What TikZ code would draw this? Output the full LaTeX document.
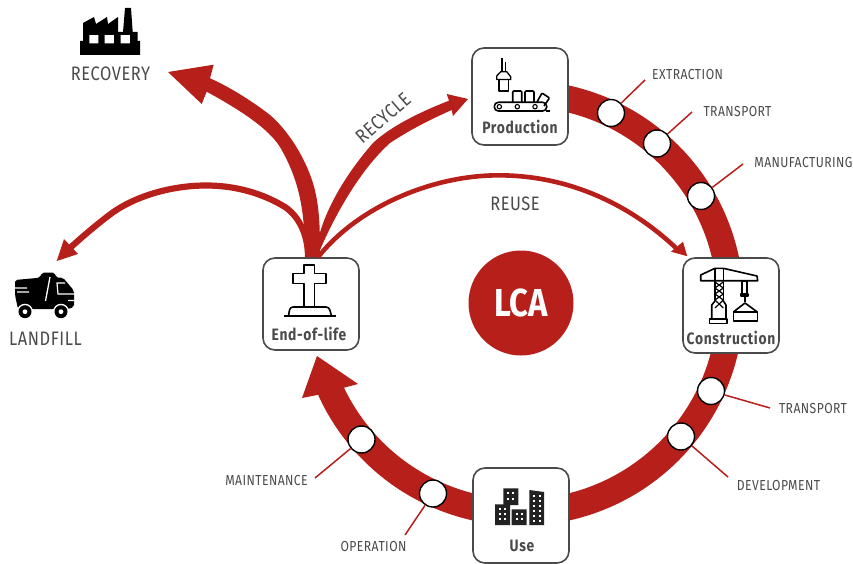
\documentclass[tikz,border=0pt]{standalone}
\usepackage{fontspec}
\setmainfont{Fira Sans}[FakeStretch=0.84]
\newfontfamily\labf{Fira Sans}[FakeStretch=0.84,LetterSpace=3]
\newfontfamily\stgf{Fira Sans}[FakeStretch=0.84,LetterSpace=4]
\definecolor{rd}{HTML}{B71F1A}
\definecolor{gr}{HTML}{4A4A4A}
\tikzset{
  x=1pt,y=-1pt,
  stage/.style={draw=gr,line width=1.6pt,fill=white,rounded corners=12pt,minimum width=96pt,inner sep=0pt},
  stagetext/.style={text=gr,font=\stgf\fontsize{16.5}{17}\bfseries\selectfont,inner sep=0pt},
  lab/.style={text=gr,font=\labf\fontsize{14.5}{16}\selectfont,inner sep=0pt},
  biglab/.style={text=gr,font=\labf\fontsize{19.5}{21}\selectfont,inner sep=0pt},
  dot/.style={circle,draw=black,line width=1.4pt,fill=white,minimum size=27pt,inner sep=0pt},
  leader/.style={draw=rd,line width=1.5pt},
  ic/.style={draw=black,line width=1.6pt,line join=round},
  thinarrow/.style={draw=rd,line width=4.6pt},
}
\begin{document}
\begin{tikzpicture}
\useasboundingbox (0,0) rectangle (853,564);
% ring
\draw[rd,line width=26.5pt] plot[domain=90:-155.5,samples=90,smooth] ({521+209.5*cos(\x)},{303-209.5*sin(\x)});
\fill[rd] (317,356) -- (358,384) -- (343,388) -- (325,395) -- (317,395) -- (302,398) -- cycle;
% centre
\node[circle,fill=rd,minimum size=105pt,inner sep=0pt,text=white,font=\fontsize{39}{40}\bfseries\selectfont] (lca) at (521,303) {LCA};
% stage boxes
\node[stage,minimum height=97pt] (prod) at (520,96.5) {};
\node[stage,minimum height=95pt] (cons) at (731,305.5) {};
\node[stage,minimum height=92pt] (eol) at (311,304) {};
\node[stage,minimum height=95pt] (use) at (521,515.5) {};
\node[stagetext] (prodt) at (520,127) {Production};
\node[stagetext] (const) at (731,337.5) {Construction};
\node[stagetext] (eolt) at (309,334) {End-of-life};
\node[stagetext] (uset) at (522,546) {Use};
% labels
\node[lab] (l1) at (687.5,75) {EXTRACTION};
\node[lab] (l2) at (737.5,112) {TRANSPORT};
\node[lab] (l3) at (803.5,163) {MANUFACTURING};
\node[lab] (l4) at (813,408.5) {TRANSPORT};
\node[lab] (l5) at (778.5,485) {DEVELOPMENT};
\node[lab] (l6) at (266.5,480) {MAINTENANCE};
\node[lab] (l7) at (373.5,546) {OPERATION};
\node[biglab] (reuse) at (515,204) {REUSE};
\node[biglab,rotate=41] (recy) at (383,118) {RECYCLE};
\node[biglab] (reco) at (110.5,74) {RECOVERY};
\node[biglab] (land) at (45.5,339) {LANDFILL};
% dots and leaders
\node[dot] (d1) at (611,113) {};
\node[dot] (d2) at (657,143.5) {};
\node[dot] (d3) at (701,196) {};
\node[dot] (d4) at (711,391) {};
\node[dot] (d5) at (681,436.5) {};
\node[dot] (d6) at (361.5,439.5) {};
\node[dot] (d7) at (433,493.5) {};
\coordinate (e1) at (645,80);
\coordinate (e2) at (692,112);
\coordinate (e3) at (743,164);
\coordinate (e4) at (770,408);
\coordinate (e5) at (728,477);
\coordinate (e6) at (315,478);
\coordinate (e7) at (405,535);
\foreach \a/\b in {d1/e1,d2/e2,d3/e3,d4/e4,d5/e5,d6/e6,d7/e7} \draw[leader] (\a) -- (\b);
% recovery arrow
\fill[rd] ([xshift=-5.5pt]eol.north) .. controls (304,215) and (302,185) .. (280,147)
  .. controls (268,128) and (240,110) .. (206.7,91.7) -- (201.7,104) -- (168,72) -- (213.7,64.7) -- (210,78.3)
  .. controls (232,88) and (256,104) .. (270,115) .. controls (290,132) and (310,165) .. (316,195)
  .. controls (320,215) and (320,235) .. ([xshift=9pt]eol.north) -- cycle;
% recycle arrow
\fill[rd] ([xshift=3pt]eol.north) -- (318,240) .. controls (325,210) and (345,175) .. (373,143)
  .. controls (392,125) and (425,110) .. (449,100.7) -- (446.7,94) -- (468,99) -- (453,116) -- (451.7,110)
  .. controls (425,122) and (410,130) .. (390,143) .. controls (360,170) and (335,215) .. (320,250) -- ([xshift=8pt]eol.north) -- cycle;
% reuse arrow
\draw[thinarrow] ([xshift=7pt]eol.north) .. controls (355,210) and (425,178) .. (490,175.5)
  .. controls (560,173) and (625,200) .. (676,248);
\fill[rd] ([shift={(5pt,1pt)}]cons.north west) -- (683,241.7) -- (671,251.7) -- cycle;
% landfill arrow
\draw[thinarrow,line width=6.2pt] ([xshift=-3pt]eol.north) .. controls (308,232) and (297,215) .. (285,207)
  .. controls (262,193) and (235,185.5) .. (206,185.5) .. controls (170,185.5) and (132,197) .. (108,216)
  .. controls (95,226) and (82,237) .. (70,248);
\fill[rd] (56.7,261) -- (78,254) -- (64,239) -- cycle;
% factory icon
\fill[black,even odd rule] (83,23) -- (94,17) -- (96,24) -- (107,17) -- (108,24) -- (118,17) -- (118,32) -- (123,32) -- (125,8) -- (131,8) -- (132.7,32) -- (137.7,32) -- (137.7,41) -- (140,41) -- (140,55) -- (80,55) -- (80,41) -- (83,41) -- cycle
 (89.3,35) rectangle (98.3,43.3) (104.7,35) rectangle (114,43.3) (120.7,35) rectangle (130,43.3);
% truck icon
\fill[black,rounded corners=2pt] (15,280) -- (40,277.7) -- (41.7,272.7) -- (55,272.7) -- (56,277.7) -- (63,277.7) -- (74,290.7) -- (74,307) -- (68,309) -- (18,309) -- (15,295) -- cycle;
\draw[white,line width=1.3pt] (14,288) -- (27,288) (17,292) -- (29,292) (50,277) -- (45.5,301) (74,300.5) -- (68,300.5);
\draw[white,line width=1.2pt] (75,294) -- (58,294) -- (57,283) -- (65,283);
\foreach \c in {25,61} {\fill[white] (\c,311.7) circle (8); \fill[black] (\c,311.7) circle (6.5); \fill[white] (\c,311.7) circle (2.4);}
% cross icon
\draw[ic] (304,306) -- (304,283.3) -- (292.7,283.3) -- (292.7,273.3) -- (304,273.3) -- (304,265) -- (314.3,265) -- (314.3,273.3) -- (326,273.3) -- (326,283.3) -- (314.3,283.3) -- (314.3,306);
\draw[ic,rounded corners=3pt] (288.5,316) -- (290,307) -- (329,307) -- (331.5,316);
\draw[ic] (283.5,316) -- (336,316);
% crane icon
\draw[ic] (700.7,280.7) -- (700.7,275) -- (715,268.3) -- (723.3,268.3) -- (757,276) -- (757.7,280.7) -- cycle;
\draw[ic] (715,268.3) -- (715,301) (723.3,268.3) -- (723.3,301);
\draw[ic,line width=1.2pt] (715,282) -- (723.3,288) -- (715,294) -- (723.3,300) -- (715,308) (723.3,282) -- (715,288) -- (723.3,294) -- (715,300) -- (723.3,308);
\draw[ic] (711.7,319) -- (711.7,305) -- (715,301) (726,319) -- (726,305) -- (723.3,301);
\draw[ic] (709.5,319) rectangle (726.7,323.3);
\draw[ic] (742,281) rectangle (747,294) (741,294) rectangle (748,296);
\draw[ic] (745,296) -- (745,302);
\draw[ic] (733.3,312) -- (745,303) -- (757.3,312);
\draw[ic] (733.3,312) rectangle (757.3,321);
% production icon
\draw[ic] (501.7,58) -- (501.7,71.7) (505.5,62) -- (505.5,71.7);
\draw[ic,line width=1.3pt] (500.7,71.7) -- (506.7,71.7) -- (510.7,76.7) -- (510.7,79.5) -- (496.7,79.5) -- (496.7,76) -- cycle;
\draw[ic] (499,80) -- (499,91) -- (508.3,91) -- (508.3,80);
\draw[ic,rounded corners=4pt] (494.3,102.3) rectangle (546.7,111);
\draw[ic] (546,111) -- (549.5,111);
\draw[ic,line width=1.1pt] (499.3,106.7) circle (2.2) (517.3,106.7) circle (2.2) (535,106.7) circle (2.2);
\draw[ic,rounded corners=1pt] (512.7,102) -- (512.7,91) -- (521.7,91) -- (521.7,102);
\draw[ic,rounded corners=1pt] (525,102) -- (525,91) -- (534,91) -- (534,102);
\draw[ic,rounded corners=1pt] (537,102) -- (542,93) -- (549.5,98) -- (544,106);
% buildings icon
\definecolor{bk}{HTML}{222222}
\fill[bk] (495,504.3) rectangle (510,525) (503.3,488.3) rectangle (518.3,505) (511.7,509.3) rectangle (526.7,525);
\fill[bk] (529.3,490) -- (544,492) -- (544,525) -- (529.3,525) -- cycle;
\foreach \x in {499,504} \foreach \y in {508,513,518} \fill[white] (\x,\y) rectangle ++(2.4,2.4);
\foreach \x in {507,512} \foreach \y in {492,498} \fill[white] (\x,\y) rectangle ++(2.4,2.4);
\foreach \x in {515.5,521} \foreach \y in {513,518} \fill[white] (\x,\y) rectangle ++(2.4,2.4);
\foreach \x in {533,538.5} \foreach \y in {495,500,505,510,515,520} \fill[white] (\x,\y) rectangle ++(2.4,2.4);
\end{tikzpicture}
\end{document}
